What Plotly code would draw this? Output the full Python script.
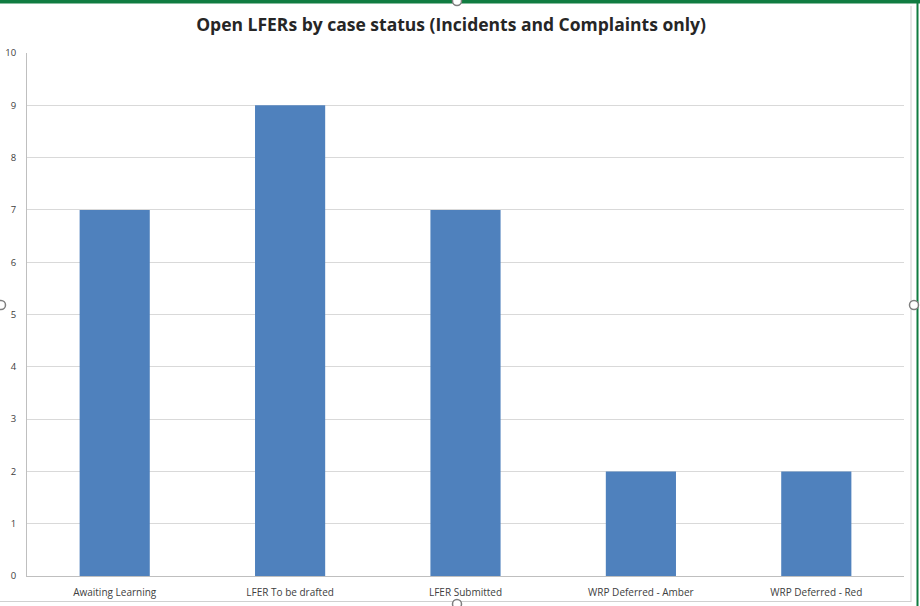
import plotly.graph_objects as go

# Open LFERs by case status
statuses = ["Awaiting Learning", "LFER To be drafted", "LFER Submitted",
            "WRP Deferred - Amber", "WRP Deferred - Red"]
counts = [7, 9, 7, 2, 2]
y_ticks = list(range(0, 11))

W, H = 920, 606
ML, MR, MT, MB = 27, 16, 53, 30
PW, PH = W - ML - MR, H - MT - MB


def px(x):
    return (x - ML) / PW


def py(y):
    return (H - MB - y) / PH


fig = go.Figure(
    go.Bar(
        x=statuses,
        y=counts,
        marker=dict(color="#4F81BD", line=dict(width=0)),
        hoverinfo="x+y",
    )
)

shapes = [
    # window frame accents
    dict(type="rect", xref="paper", yref="paper", x0=px(-2), x1=px(W + 2), y0=py(-1), y1=py(3.5),
         fillcolor="#107C41", line=dict(width=0), layer="above"),
    dict(type="line", xref="paper", yref="paper", x0=px(917.5), x1=px(917.5), y0=py(0), y1=py(H),
         line=dict(color="#107C41", width=2)),
    dict(type="line", xref="paper", yref="paper", x0=px(911), x1=px(911), y0=py(6), y1=py(602),
         line=dict(color="#D0D0D0", width=1)),
    dict(type="line", xref="paper", yref="paper", x0=px(0), x1=px(911), y0=py(601.5), y1=py(601.5),
         line=dict(color="#D0D0D0", width=1)),
]
# selection handles on the chart border
for cx, cy in [(457, 1), (1, 305), (914, 305), (457, 604)]:
    shapes.append(dict(type="circle", xref="paper", yref="paper",
                       x0=px(cx - 4.5), x1=px(cx + 4.5), y0=py(cy - 4.5), y1=py(cy + 4.5),
                       fillcolor="white", line=dict(color="#7F7F7F", width=1.5), layer="above"))

fig.update_layout(
    width=W,
    height=H,
    margin=dict(l=ML, r=MR, t=MT, b=MB, autoexpand=False),
    paper_bgcolor="white",
    plot_bgcolor="white",
    bargap=0.6,
    showlegend=False,
    font=dict(family="Open Sans, Liberation Sans, sans-serif", color="#404040", size=10),
    title=dict(
        text="<b>Open LFERs by case status (Incidents and Complaints only)</b>",
        x=px(457), xanchor="center", y=1 - 25 / H, yanchor="middle",
        font=dict(family="Open Sans, sans-serif", size=17.5, color="#262626"),
    ),
    xaxis=dict(
        showgrid=False,
        showline=True,
        linecolor="#BFBFBF",
        linewidth=1,
        ticks="",
        tickfont=dict(size=10, color="#404040"),
        ticklabelstandoff=7,
        automargin=False,
        fixedrange=True,
    ),
    yaxis=dict(
        range=[0, 10],
        tickvals=y_ticks,
        showgrid=True,
        gridcolor="#D9D9D9",
        gridwidth=1,
        zeroline=False,
        showline=True,
        linecolor="#BFBFBF",
        linewidth=1,
        ticks="",
        tickfont=dict(size=9.5, color="#404040"),
        ticklabelstandoff=8,
        automargin=False,
        fixedrange=True,
    ),
    shapes=shapes,
)

fig.write_html("out.html")
